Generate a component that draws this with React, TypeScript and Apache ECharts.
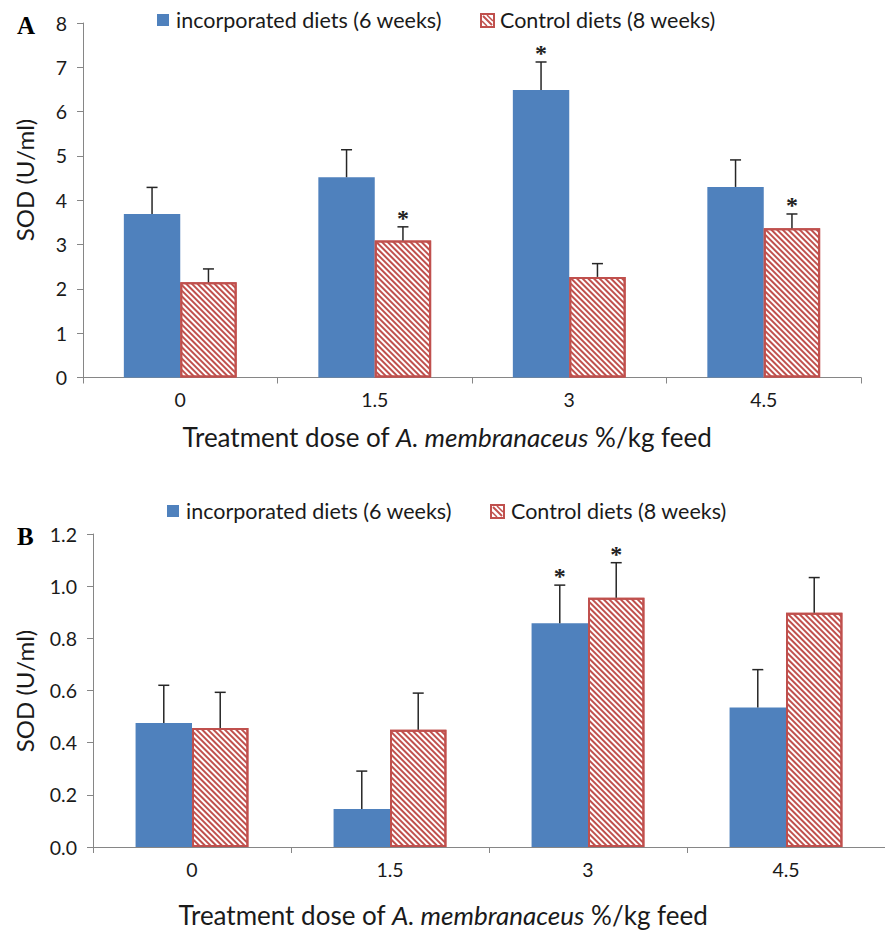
import React, { useEffect, useRef } from "react";
import * as echarts from "echarts";

// ---------- data ----------
const categories = ["0", "1.5", "3", "4.5"];
const seriesNames = ["incorporated diets (6 weeks)", "Control diets (8 weeks)"];

// Panel A
const aIncorporated = [3.69, 4.52, 6.49, 4.3];
const aIncorporatedErr = [0.6, 0.62, 0.63, 0.61];
const aIncorporatedStar = [0, 0, 1, 0];
const aControl = [2.15, 3.09, 2.27, 3.37];
const aControlErr = [0.3, 0.31, 0.3, 0.32];
const aControlStar = [0, 1, 0, 1];
const aYMin = 0;
const aYMax = 8;
const aYStep = 1;

// Panel B
const bIncorporated = [0.475, 0.146, 0.858, 0.535];
const bIncorporatedErr = [0.145, 0.145, 0.146, 0.145];
const bIncorporatedStar = [0, 0, 1, 0];
const bControl = [0.456, 0.45, 0.956, 0.898];
const bControlErr = [0.137, 0.14, 0.134, 0.135];
const bControlStar = [0, 0, 1, 0];
const bYMin = 0;
const bYMax = 1.2;
const bYStep = 0.2;

// ---------- style ----------
const BLUE = "#4F81BD";
const RED = "#C0504D";
const AXIS = "#868686";
const TXT = "#1a1a1a";
const FONT = "Lato";
const GAP_A = 0.42;
const GAP_B = 0.43;

const errData = (vals: number[], errs: number[], stars: number[], side: number) =>
  vals.map((v, i) => [i, v, errs[i], side, stars[i]]);

const makeRender = (gap: number) => (params: any, api: any) => {
  const ci = api.value(0);
  const v = api.value(1);
  const e = api.value(2);
  const side = api.value(3);
  const star = api.value(4);
  const p0 = api.coord([ci, v]);
  const p1 = api.coord([ci, v + e]);
  const cw = api.size([1, 0])[0];
  const bw = (cw * (1 - gap)) / 2;
  const x = p0[0] + (side === 0 ? -bw / 2 : bw / 2);
  const children: any[] = [
    { type: "line", shape: { x1: x, y1: p0[1], x2: x, y2: p1[1] }, style: { stroke: "#262626", lineWidth: 1.5 } },
    { type: "line", shape: { x1: x - 5.5, y1: p1[1], x2: x + 5.5, y2: p1[1] }, style: { stroke: "#262626", lineWidth: 1.5 } },
  ];
  if (star) {
    children.push({
      type: "text",
      style: {
        text: "*",
        x: x,
        y: p1[1] - 9,
        align: "center",
        verticalAlign: "middle",
        fontSize: 24,
        fontWeight: "bold",
        fontFamily: "Liberation Serif",
        fill: "#222",
      },
    });
  }
  return { type: "group", children };
};

const redStyle = {
  color: "#ffffff",
  borderColor: RED,
  borderWidth: 2,
  decal: {
    symbol: "rect",
    symbolSize: 1,
    color: RED,
    dashArrayX: [1, 0],
    dashArrayY: [1.8, 1.5],
    rotation: Math.PI / 4,
  },
};

const legendGraphics = (x1: number, tx1: number, x2: number, tx2: number, cy: number) => [
  { type: "rect", shape: { x: x1, y: cy - 6, width: 12, height: 12 }, style: { fill: BLUE } },
  {
    type: "text",
    style: { text: seriesNames[0], x: tx1, y: cy, verticalAlign: "middle", fontSize: 21.5, fontFamily: FONT, fill: TXT },
  },
  { type: "rect", shape: { x: x2, y: cy - 6, width: 13, height: 13 }, style: { fill: "#fff", stroke: RED, lineWidth: 2 } },
  { type: "line", shape: { x1: x2 + 2, y1: cy - 4, x2: x2 + 11, y2: cy + 5 }, style: { stroke: RED, lineWidth: 2 } },
  { type: "line", shape: { x1: x2 + 6, y1: cy - 5, x2: x2 + 12, y2: cy + 1 }, style: { stroke: RED, lineWidth: 1.5 } },
  { type: "line", shape: { x1: x2 + 1, y1: cy + 1, x2: x2 + 6, y2: cy + 6 }, style: { stroke: RED, lineWidth: 1.5 } },
  {
    type: "text",
    style: { text: seriesNames[1], x: tx2, y: cy, verticalAlign: "middle", fontSize: 21.5, fontFamily: FONT, fill: TXT },
  },
];

const xTitle = (cx: number, cy: number) => ({
  type: "text",
  style: {
    text: "{n|Treatment dose of }{i|A. membranaceus}{n| %/kg feed}",
    x: cx,
    y: cy,
    align: "center",
    verticalAlign: "middle",
    fill: TXT,
    fontSize: 26,
    fontFamily: FONT,
    rich: {
      n: { fontSize: 26, fontFamily: FONT, fill: TXT },
      i: { fontSize: 26, fontFamily: FONT, fontStyle: "italic", fill: TXT },
    },
  },
});

const yTitle = (cx: number, cy: number) => ({
  type: "text",
  x: cx,
  y: cy,
  rotation: Math.PI / 2,
  style: {
    text: "SOD (U/ml)",
    x: 0,
    y: 0,
    align: "center",
    verticalAlign: "middle",
    fontSize: 24,
    fontFamily: FONT,
    fill: TXT,
  },
});

const panelLetter = (t: string, x: number, cy: number) => ({
  type: "text",
  style: {
    text: t,
    x,
    y: cy,
    verticalAlign: "middle",
    fontSize: 25,
    fontWeight: "bold",
    fontFamily: "Liberation Serif",
    fill: "#000",
  },
});

const xAxisCommon = {
  type: "category",
  data: categories,
  axisLine: { lineStyle: { color: AXIS, width: 1 } },
  axisTick: { show: true, length: 6, lineStyle: { color: AXIS } },
  axisLabel: { fontSize: 19.5, fontFamily: FONT, color: TXT, margin: 12 },
};

const yAxisCommon = {
  type: "value",
  splitLine: { show: false },
  axisLine: { show: true, lineStyle: { color: AXIS, width: 1 } },
  axisTick: { show: true, length: 6, lineStyle: { color: AXIS } },
};

export default function App() {
  const ref = useRef<HTMLDivElement>(null);
  useEffect(() => {
    document.body.style.margin = "0";
    const chart = echarts.init(ref.current!, null, { renderer: "svg" });
    const option: any = {
      animation: false,
      backgroundColor: "#ffffff",
      grid: [
        { left: 83, top: 23, width: 778, height: 354.5 },
        { left: 93, top: 534, width: 792, height: 313 },
      ],
      xAxis: [
        { ...xAxisCommon, gridIndex: 0 },
        { ...xAxisCommon, gridIndex: 1 },
      ],
      yAxis: [
        {
          ...yAxisCommon,
          gridIndex: 0,
          min: aYMin,
          max: aYMax,
          interval: aYStep,
          axisLabel: { fontSize: 19.5, fontFamily: FONT, color: TXT, margin: 16 },
        },
        {
          ...yAxisCommon,
          gridIndex: 1,
          min: bYMin,
          max: bYMax,
          interval: bYStep,
          axisLabel: {
            fontSize: 19.5,
            fontFamily: FONT,
            color: TXT,
            margin: 16,
            formatter: (v: number) => v.toFixed(1),
          },
        },
      ],
      series: [
        {
          type: "bar",
          name: seriesNames[0],
          xAxisIndex: 0,
          yAxisIndex: 0,
          data: aIncorporated,
          barGap: "0%",
          barCategoryGap: GAP_A * 100 + "%",
          itemStyle: { color: BLUE },
        },
        {
          type: "bar",
          name: seriesNames[1],
          xAxisIndex: 0,
          yAxisIndex: 0,
          data: aControl,
          barGap: "0%",
          barCategoryGap: GAP_A * 100 + "%",
          itemStyle: redStyle,
        },
        {
          type: "bar",
          name: seriesNames[0],
          xAxisIndex: 1,
          yAxisIndex: 1,
          data: bIncorporated,
          barGap: "0%",
          barCategoryGap: GAP_B * 100 + "%",
          itemStyle: { color: BLUE },
        },
        {
          type: "bar",
          name: seriesNames[1],
          xAxisIndex: 1,
          yAxisIndex: 1,
          data: bControl,
          barGap: "0%",
          barCategoryGap: GAP_B * 100 + "%",
          itemStyle: redStyle,
        },
        {
          type: "custom",
          xAxisIndex: 0,
          yAxisIndex: 0,
          z: 10,
          renderItem: makeRender(GAP_A),
          encode: { x: 0, y: 1 },
          data: [
            ...errData(aIncorporated, aIncorporatedErr, aIncorporatedStar, 0),
            ...errData(aControl, aControlErr, aControlStar, 1),
          ],
        },
        {
          type: "custom",
          xAxisIndex: 1,
          yAxisIndex: 1,
          z: 10,
          renderItem: makeRender(GAP_B),
          encode: { x: 0, y: 1 },
          data: [
            ...errData(bIncorporated, bIncorporatedErr, bIncorporatedStar, 0),
            ...errData(bControl, bControlErr, bControlStar, 1),
          ],
        },
      ],
      graphic: [
        panelLetter("A", 17, 25),
        panelLetter("B", 17, 536),
        ...legendGraphics(157, 176, 481, 500, 20),
        ...legendGraphics(167, 186, 491, 511, 511),
        yTitle(24, 180),
        yTitle(24, 691),
        xTitle(447, 437),
        xTitle(443, 915),
      ],
    };
    chart.setOption(option);
    return () => chart.dispose();
  }, []);
  return <div ref={ref} style={{ width: 885, height: 930 }} />;
}
